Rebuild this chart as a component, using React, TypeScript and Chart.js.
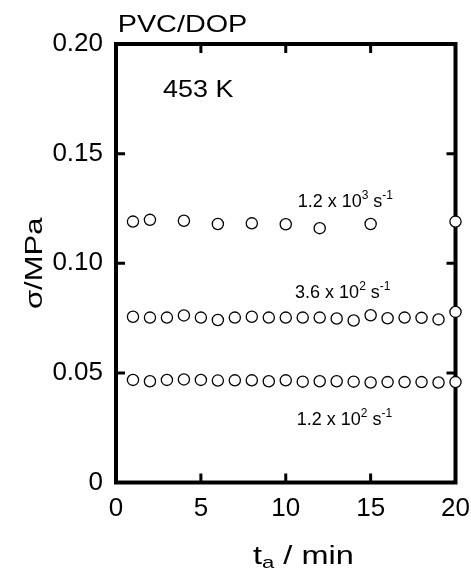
import { useEffect, useRef } from "react";
import { Chart, registerables } from "chart.js";

Chart.register(...registerables);

const FONT = '"Liberation Sans", Arial, Helvetica, sans-serif';

// Series: 1.2 x 10^3 s^-1
const timeHigh = [1, 2, 4, 6, 8, 10, 12, 15, 20];
const stressHigh = [0.119, 0.1198, 0.1194, 0.1179, 0.1182, 0.1178, 0.116, 0.1179, 0.119];

// Series: 3.6 x 10^2 s^-1
const timeMid = [1, 2, 3, 4, 5, 6, 7, 8, 9, 10, 11, 12, 13, 14, 15, 16, 17, 18, 19, 20];
const stressMid = [
  0.0756, 0.0752, 0.0752, 0.0762, 0.0752, 0.0741, 0.0752, 0.0756, 0.0752, 0.0752,
  0.0752, 0.0752, 0.0748, 0.0739, 0.0763, 0.0749, 0.0752, 0.0751, 0.0744, 0.0778,
];

// Series: 1.2 x 10^2 s^-1
const timeLow = [1, 2, 3, 4, 5, 6, 7, 8, 9, 10, 11, 12, 13, 14, 15, 16, 17, 18, 19, 20];
const stressLow = [
  0.0468, 0.0462, 0.0468, 0.047, 0.0468, 0.0465, 0.0466, 0.0466, 0.0462, 0.0466,
  0.046, 0.0462, 0.0462, 0.046, 0.0456, 0.0458, 0.0458, 0.0458, 0.0456, 0.0458,
];

const xTickLabels = ["0", "5", "10", "15", "20"];
const yTickLabels = ["0", "0.05", "0.10", "0.15", "0.20"];

type Part = { t: string; sup?: boolean; sub?: boolean };
type Note = { parts: Part[]; x: number; y: number; size: number; sx: number };

const notes: Note[] = [
  { parts: [{ t: "PVC/DOP" }], x: 0.1, y: 0.2055, size: 24, sx: 1.2 },
  { parts: [{ t: "453 K" }], x: 2.77, y: 0.1759, size: 23, sx: 1.17 },
  { parts: [{ t: "1.2 x 10" }, { t: "3", sup: true }, { t: " s" }, { t: "-1", sup: true }], x: 10.7, y: 0.1257, size: 18, sx: 1.0 },
  { parts: [{ t: "3.6 x 10" }, { t: "2", sup: true }, { t: " s" }, { t: "-1", sup: true }], x: 10.55, y: 0.0842, size: 18, sx: 1.0 },
  { parts: [{ t: "1.2 x 10" }, { t: "2", sup: true }, { t: " s" }, { t: "-1", sup: true }], x: 10.65, y: 0.0262, size: 18, sx: 1.0 },
];

function drawRich(ctx: CanvasRenderingContext2D, x: number, y: number, parts: Part[], size: number, sx = 1) {
  ctx.save();
  ctx.translate(x, y);
  ctx.scale(sx, 1);
  let cx = 0;
  ctx.textAlign = "left";
  ctx.textBaseline = "alphabetic";
  for (const p of parts) {
    const s = p.sup || p.sub ? Math.round(size * 0.66) : size;
    ctx.font = `${s}px ${FONT}`;
    const dy = p.sup ? -size * 0.45 : p.sub ? size * 0.18 : 0;
    ctx.fillText(p.t, cx, dy);
    cx += ctx.measureText(p.t).width;
  }
  ctx.restore();
}

const framePlugin = {
  id: "framePlugin",
  beforeDatasetsDraw(chart: any) {
    const { ctx, chartArea: a, scales } = chart;
    ctx.save();
    ctx.strokeStyle = "#000";
    ctx.lineWidth = 4;
    ctx.strokeRect(a.left, a.top, a.right - a.left, a.bottom - a.top);
    ctx.lineWidth = 3;
    ctx.beginPath();
    const L = 9;
    for (const t of scales.x.ticks) {
      if (t.value <= 0 || t.value >= 20) continue;
      const px = scales.x.getPixelForValue(t.value);
      ctx.moveTo(px, a.bottom);
      ctx.lineTo(px, a.bottom - L);
      ctx.moveTo(px, a.top);
      ctx.lineTo(px, a.top + L);
    }
    for (const t of scales.y.ticks) {
      if (t.value <= 0.0001 || t.value >= 0.1999) continue;
      const py = scales.y.getPixelForValue(t.value);
      ctx.moveTo(a.left, py);
      ctx.lineTo(a.left + L, py);
      ctx.moveTo(a.right, py);
      ctx.lineTo(a.right - L, py);
    }
    ctx.stroke();
    ctx.restore();
  },
  afterDraw(chart: any) {
    const { ctx, chartArea: a, scales } = chart;
    ctx.save();
    ctx.fillStyle = "#000";
    for (const n of notes) {
      drawRich(ctx, scales.x.getPixelForValue(n.x), scales.y.getPixelForValue(n.y), n.parts, n.size, n.sx);
    }
    // x axis title
    drawRich(ctx, a.left + 137, a.bottom + 81, [{ t: "t" }, { t: "a", sub: true }, { t: " / min" }], 25, 1.3);
    // y axis title
    ctx.translate(a.left - 80, (a.top + a.bottom) / 2);
    ctx.rotate(-Math.PI / 2);
    ctx.scale(1.35, 1);
    ctx.font = `23px ${FONT}`;
    ctx.textAlign = "center";
    ctx.textBaseline = "middle";
    ctx.fillText("σ/MPa", 0, 0);
    ctx.restore();
  },
};

function toPoints(xs: number[], ys: number[]) {
  return xs.map((x, i) => ({ x, y: ys[i] }));
}

export default function App() {
  const ref = useRef<HTMLCanvasElement>(null);
  useEffect(() => {
    if (!ref.current) return;
    const pointStyle = {
      pointRadius: 5.6,
      pointBorderWidth: 1.3,
      pointBorderColor: "#000",
      pointBackgroundColor: "#fff",
      showLine: false,
      clip: false as any,
    };
    const chart = new Chart(ref.current, {
      type: "scatter",
      data: {
        datasets: [
          { label: "1.2 x 10^3 s^-1", data: toPoints(timeHigh, stressHigh), ...pointStyle },
          { label: "3.6 x 10^2 s^-1", data: toPoints(timeMid, stressMid), ...pointStyle },
          { label: "1.2 x 10^2 s^-1", data: toPoints(timeLow, stressLow), ...pointStyle },
        ],
      },
      options: {
        animation: false,
        responsive: false,
        devicePixelRatio: 1,
        layout: { padding: { top: 44, right: 15.5, left: 0, bottom: 0 } },
        plugins: { legend: { display: false }, tooltip: { enabled: false } },
        scales: {
          x: {
            type: "linear",
            min: 0,
            max: 20,
            ticks: {
              stepSize: 5,
              color: "#000",
              padding: 11,
              font: { family: FONT, size: 26 },
              callback: (_v: any, i: number) => xTickLabels[i],
              maxRotation: 0,
            },
            grid: { display: false, drawTicks: false },
            border: { display: false },
            afterFit: (s: any) => {
              s.height = 90.5;
              s.paddingLeft = 0;
              s.paddingRight = 0;
            },
          },
          y: {
            type: "linear",
            min: 0,
            max: 0.2,
            ticks: {
              stepSize: 0.05,
              color: "#000",
              padding: 13,
              font: { family: FONT, size: 26 },
              callback: (_v: any, i: number) => yTickLabels[i],
            },
            grid: { display: false, drawTicks: false },
            border: { display: false },
            afterFit: (s: any) => {
              s.width = 116;
              s.paddingTop = 0;
              s.paddingBottom = 0;
            },
          },
        },
      },
      plugins: [framePlugin],
    });
    return () => chart.destroy();
  }, []);
  return (
    <div style={{ position: "fixed", left: 0, top: 0, width: 471, height: 573, background: "#fff" }}>
      <canvas ref={ref} width={471} height={573} style={{ width: 471, height: 573 }} />
    </div>
  );
}
